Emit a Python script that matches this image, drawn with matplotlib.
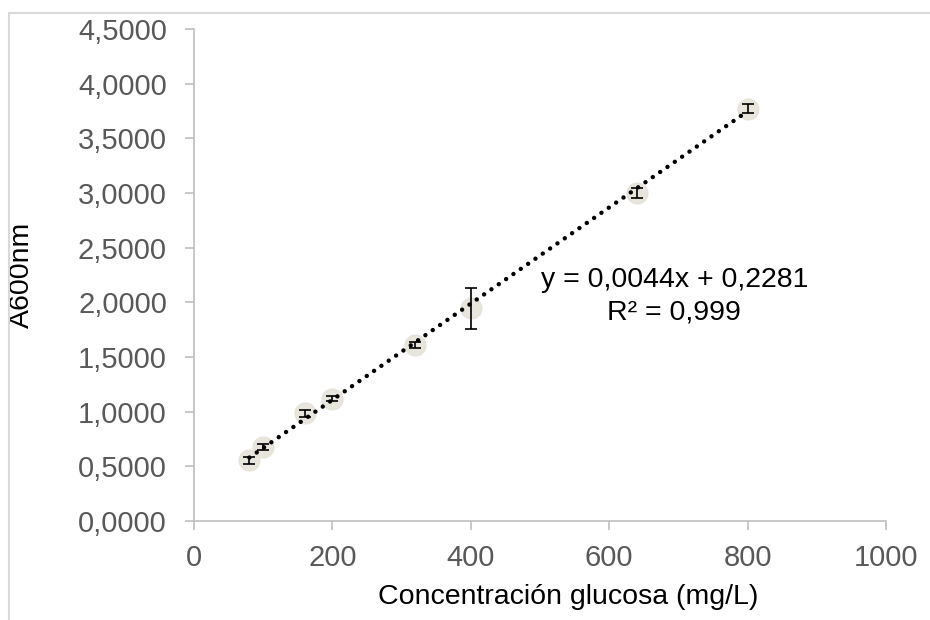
import numpy as np
import matplotlib
matplotlib.use("Agg")
import matplotlib.pyplot as plt
import matplotlib.patches as patches

# datos de la curva de calibracion
conc = [80, 100, 160, 200, 320, 400, 640, 800]
absorb = [0.555, 0.675, 0.985, 1.12, 1.61, 1.945, 3.0, 3.77]
err = [0.03, 0.03, 0.03, 0.02, 0.03, 0.19, 0.05, 0.04]
pendiente = 0.0044
intercepto = 0.2281
r2 = 0.999

yticks = np.arange(0, 4.51, 0.5)
xticks = [0, 200, 400, 600, 800, 1000]

plt.rcParams['font.family'] = ['Liberation Sans', 'DejaVu Sans']

fig = plt.figure(figsize=(9.3, 6.2), dpi=100)
ax = fig.add_axes([194/930, 1 - 521/620, 692/930, 492/620])

# marco del grafico
marco = patches.Rectangle((8.5/930, -0.1), 1.2, 1 - 13.5/620 + 0.1, transform=fig.transFigure,
                          fill=False, edgecolor='#d9d9d9', linewidth=1.5, clip_on=False)
fig.patches.append(marco)

ax.plot(conc, absorb, 'o', markersize=15, color='#e4e2d6', alpha=0.85, zorder=2)
ax.errorbar(conc, absorb, yerr=err, fmt='none', ecolor='black', elinewidth=1.2,
            capsize=4, capthick=1.2, zorder=3)

xs = np.linspace(min(conc), max(conc), 200)
ax.plot(xs, pendiente * xs + intercepto, color='black', linewidth=3.2,
        linestyle=(0, (0.01, 2.0)), dash_capstyle='round', zorder=4)

ax.text(694, 2.2, f'y = {pendiente:.4f}x + {intercepto:.4f}'.replace('.', ','),
        ha='center', va='center', fontsize=20.5, color='black')
ax.text(694, 1.91, f'R² = {r2:.3f}'.replace('.', ','),
        ha='center', va='center', fontsize=20.5, color='black')

ax.set_xlim(0, 1000)
ax.set_ylim(0, 4.5)
ax.set_xticks(xticks)
ax.set_yticks(yticks)
ax.set_xticklabels([str(t) for t in xticks])
ax.set_yticklabels([f'{t:.4f}'.replace('.', ',') for t in yticks])
ax.tick_params(axis='both', colors='#bfbfbf', labelcolor='#595959', labelsize=21,
               length=6.5, width=1.2, direction='out')
ax.tick_params(axis='y', pad=13)
ax.tick_params(axis='x', pad=10)

for s in ['top', 'right']:
    ax.spines[s].set_visible(False)
for s in ['left', 'bottom']:
    ax.spines[s].set_color('#bfbfbf')
    ax.spines[s].set_linewidth(1.2)

ax.set_xlabel('Concentración glucosa (mg/L)', fontsize=20.5, color='black')
ax.set_ylabel('A600nm', fontsize=20.5, color='black')
ax.xaxis.set_label_coords((568 - 194) / 692, (521 - 597) / 492)
ax.yaxis.set_label_coords((22 - 194) / 692, 0.5)
ax.xaxis.label.set_va('center')
ax.yaxis.label.set_va('center')

fig.savefig('out.png', dpi=100)
